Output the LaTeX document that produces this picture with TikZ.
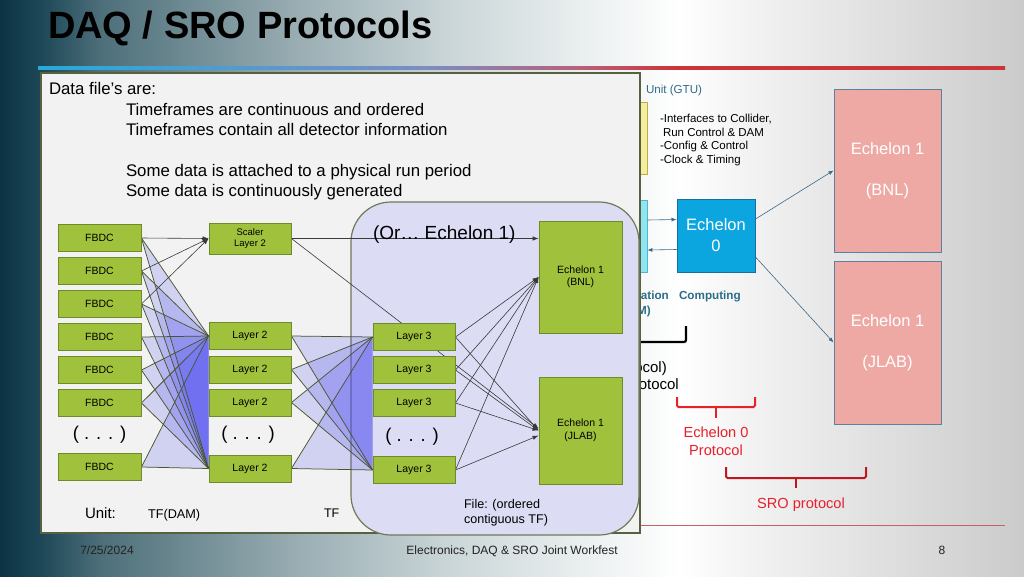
\documentclass[tikz,border=0pt]{standalone}
\usepackage{fontspec}
\setmainfont{Liberation Sans}
\usetikzlibrary{arrows.meta,calc}
\definecolor{bgA}{HTML}{0B3343}
\definecolor{bgA2}{HTML}{1D4757}
\definecolor{bgB}{HTML}{4D6F7A}
\definecolor{bgC}{HTML}{9AAEB3}
\definecolor{bgD}{HTML}{CBD6D8}
\definecolor{bgE}{HTML}{EEF2F2}
\definecolor{bgF}{HTML}{F4F4F4}
\definecolor{bgG}{HTML}{CBCBCB}
\definecolor{lnA}{HTML}{28A9D9}
\definecolor{lnB}{HTML}{7C8DC2}
\definecolor{lnC}{HTML}{B8607A}
\definecolor{lnD}{HTML}{CC3538}
\definecolor{botline}{HTML}{C4606C}
\definecolor{gfill}{HTML}{A0C13B}
\definecolor{gborder}{HTML}{6E8B2A}
\definecolor{panelfill}{HTML}{F2F2F2}
\definecolor{panelborder}{HTML}{55613F}
\definecolor{lavfill}{HTML}{DCDCF4}
\definecolor{lavborder}{HTML}{6E7A58}
\definecolor{fanblue}{HTML}{5050F0}
\definecolor{fanline}{HTML}{4A5630}
\definecolor{arrgray}{HTML}{3A3A3A}
\definecolor{tealline}{HTML}{3A6A8A}
\definecolor{tealtext}{HTML}{2B6D8A}
\definecolor{pinkfill}{HTML}{EEA9A5}
\definecolor{pinkborder}{HTML}{5D7FA0}
\definecolor{ezfill}{HTML}{0BA5E0}
\definecolor{ezborder}{HTML}{1C6E9A}
\definecolor{gtufill}{HTML}{F6EE9C}
\definecolor{gtuborder}{HTML}{B5B050}
\definecolor{damfill}{HTML}{8EE6F2}
\definecolor{damborder}{HTML}{55B5C5}
\definecolor{redA}{HTML}{E8202A}
\definecolor{redB}{HTML}{C0161C}
\definecolor{foot}{HTML}{222222}
\pgfdeclarehorizontalshading{slidebg}{100bp}{color(0bp)=(bgA); color(25bp)=(bgA); color(27bp)=(bgA2); color(29.9bp)=(bgB); color(39.6bp)=(bgC); color(47bp)=(bgD); color(54.3bp)=(bgE); color(58.2bp)=(white); color(61.1bp)=(bgF); color(75bp)=(bgG); color(100bp)=(bgG)}
\pgfdeclarehorizontalshading{topline}{100bp}{color(0bp)=(lnA); color(25bp)=(lnA); color(45bp)=(lnB); color(53bp)=(lnC); color(58bp)=(lnD); color(75bp)=(lnD); color(100bp)=(lnD)}
\pgfdeclarelayer{L0}
\pgfdeclarelayer{L1}
\pgfdeclarelayer{L2}
\pgfdeclarelayer{L3}
\pgfsetlayers{L0,L1,L2,L3,main}
\newcommand\fsz[2]{\fontsize{#1}{#2}\selectfont}
\begin{document}
\begin{tikzpicture}[x=1pt,y=-1pt,
  txt/.style={inner sep=0pt, outer sep=0pt, anchor=base west},
  gnode/.style={draw=gborder, fill=gfill, line width=0.9pt, inner sep=0pt, minimum width=83pt, minimum height=27pt, font=\fsz{10.5}{12.5}, align=center},
  fan/.style={fill=fanblue, fill opacity=0.2},
  fanln/.style={draw=fanline, line width=0.75pt},
  arr/.style={draw=arrgray, line width=0.6pt, -{Latex[length=6pt,width=4.5pt]}},
  earr/.style={draw=tealline, line width=0.6pt, -{Latex[length=5pt,width=4pt]}},
  pinkbox/.style={draw=pinkborder, fill=pinkfill, line width=1pt, minimum width=107pt, minimum height=163pt, inner sep=0pt, text=white, font=\fsz{16.5}{20.5}, align=center},
  dots/.style={inner sep=0pt, font=\fsz{18.5}{20}},
  redtxt/.style={inner sep=0pt, anchor=base, font=\fsz{14.6}{17}},
  foottxt/.style={inner sep=0pt, anchor=base, font=\fsz{12}{14}, text=foot}
]
\useasboundingbox (0,0) rectangle (1024,576);

\begin{pgfonlayer}{L0}
  \shade[shading=slidebg] (0,0) rectangle (1024,576);
  \shade[shading=topline] (38,66.7) rectangle (1005,69.5);
  \draw[botline, line width=1.2pt] (640,525.5) -- (1005,525.5);
  \node[txt, font=\fsz{38}{40}\bfseries] (title) at (48,38) {DAQ / SRO Protocols};

  \node[draw=gtuborder, fill=gtufill, line width=0.8pt, minimum width=47pt, minimum height=72pt, inner sep=0pt] (gtu) at (623.5,138) {};
  \node[draw=damborder, fill=damfill, line width=0.8pt, minimum width=47pt, minimum height=72pt, inner sep=0pt] (dam) at (623.5,236) {};
  \node[txt, font=\fsz{11.6}{14}, text=tealtext] (gtulbl) at (646,93) {Unit (GTU)};
  \node[txt, font=\fsz{11.5}{14}] (i1) at (660,122) {-Interfaces to Collider,};
  \node[txt, font=\fsz{11.5}{14}] (i2) at (663,136) {Run Control \& DAM};
  \node[txt, font=\fsz{11.5}{14}] (i3) at (660,149) {-Config \& Control};
  \node[txt, font=\fsz{11.5}{14}] (i4) at (660,163) {-Clock \& Timing};

  \node[draw=ezborder, fill=ezfill, line width=1pt, minimum width=78pt, minimum height=73pt, inner sep=0pt, text=white, font=\fsz{16.5}{21}, align=center] (e0) at (716,235.5) {Echelon\\0};
  \node[pinkbox] (p1) at (887.5,170.5) {Echelon 1\\[20.5pt](BNL)};
  \node[pinkbox] (p2) at (887.5,342.5) {Echelon 1\\[20.5pt](JLAB)};

  \draw[earr] ([yshift=16pt]dam.east) -- ([yshift=16pt]e0.west);
  \draw[earr] ([yshift=-14pt]e0.west) -- ([yshift=-14pt]dam.east);
  \draw[earr] ([yshift=16.5pt]e0.east) -- (p1.west);
  \draw[earr] ([yshift=-21.5pt]e0.east) -- (p2.west);

  \node[inner sep=0pt, anchor=base east, font=\fsz{11.7}{14}\bfseries, text=tealtext] (frag1) at (669,299) {ation};
  \node[txt, font=\fsz{11.7}{14}\bfseries, text=tealtext] (comp) at (679,299) {Computing};
  \node[inner sep=0pt, anchor=base east, font=\fsz{11.7}{14}\bfseries, text=tealtext] (frag2) at (651,314) {M)};
  \draw[line width=2.2pt, rounded corners=2pt] (620,342) -- (686,342) -- (686,326);
  \node[inner sep=0pt, anchor=base east, font=\fsz{15}{17}] (frag3) at (667,372) {ocol)};
  \node[inner sep=0pt, anchor=base east, font=\fsz{15}{17}] (frag4) at (679,389) {otocol};

  \draw[redA, line width=2pt, rounded corners=1.5pt] (677,397) -- (677,407) -- (755,407) -- (755,397);
  \draw[redA, line width=2pt] (716,407) -- (716,418);
  \node[redtxt, text=redA] (ep1) at (716,437) {Echelon 0};
  \node[redtxt, text=redA] (ep2) at (716,455) {Protocol};
  \draw[redB, line width=2pt, rounded corners=1.5pt] (726,467) -- (726,478) -- (866,478) -- (866,467);
  \draw[redB, line width=2pt] (796,478) -- (796,488);
  \node[redtxt, text=redA] (sro) at (801,508) {SRO protocol};

  \node[foottxt] (date) at (107,554) {7/25/2024};
  \node[foottxt] (conf) at (512,554) {Electronics, DAQ \& SRO Joint Workfest};
  \node[foottxt] (page) at (942,554) {8};
\end{pgfonlayer}

\begin{pgfonlayer}{L1}
  \filldraw[fill=panelfill, draw=panelborder, line width=1.2pt] (41,73) rectangle (640,533);
  \node[txt, font=\fsz{16.8}{20}] (d0) at (49,94) {Data file’s are:};
  \node[txt, font=\fsz{16.8}{20}] (d1) at (126,115) {Timeframes are continuous and ordered};
  \node[txt, font=\fsz{16.8}{20}] (d2) at (126,135) {Timeframes contain all detector information};
  \node[txt, font=\fsz{16.8}{20}] (d3) at (126,176) {Some data is attached to a physical run period};
  \node[txt, font=\fsz{16.8}{20}] (d4) at (126,196) {Some data is continuously generated};
\end{pgfonlayer}

% green nodes
\node[gnode] (f1) at (99.5,238) {FBDC};
\node[gnode] (f2) at (99.5,271) {FBDC};
\node[gnode] (f3) at (99.5,304) {FBDC};
\node[gnode] (f4) at (99.5,337) {FBDC};
\node[gnode] (f5) at (99.5,370) {FBDC};
\node[gnode] (f6) at (99.5,403) {FBDC};
\node[gnode] (f7) at (99.5,467) {FBDC};
\node[dots] (fd) at (99.5,435) {( . . . )};

\node[gnode, minimum width=82pt, minimum height=31pt, font=\fsz{9.5}{11.5}] (sc) at (250,238.5) {Scaler\\Layer 2};
\node[gnode, minimum width=82pt] (l2a) at (250,336) {Layer 2};
\node[gnode, minimum width=82pt] (l2b) at (250,369.5) {Layer 2};
\node[gnode, minimum width=82pt] (l2c) at (250,402.5) {Layer 2};
\node[gnode, minimum width=82pt] (l2d) at (250,468.5) {Layer 2};
\node[dots] (l2dots) at (248,435) {( . . . )};

\node[gnode, minimum width=82pt] (l3a) at (414,337) {Layer 3};
\node[gnode, minimum width=82pt] (l3b) at (414,370) {Layer 3};
\node[gnode, minimum width=82pt] (l3c) at (414,403) {Layer 3};
\node[gnode, minimum width=82pt] (l3d) at (414,470) {Layer 3};
\node[dots] (l3dots) at (412,437) {( . . . )};

\node[gnode, minimum width=83pt, minimum height=112pt] (e1b) at (580.5,277) {Echelon 1\\(BNL)};
\node[gnode, minimum width=83pt, minimum height=107pt] (e1j) at (580.5,430.5) {Echelon 1\\(JLAB)};

\node[txt, font=\fsz{19}{22}] (orech) at (373,239) {(Or… Echelon 1)};
\node[txt, font=\fsz{15}{17}] (unit) at (85,518) {Unit:};
\node[txt, font=\fsz{12.7}{15}] (tfdam) at (148,518) {TF(DAM)};
\node[txt, font=\fsz{12.5}{15}] (tf) at (324,517) {TF};
\node[txt, font=\fsz{12.6}{15}] (file1) at (464,508) {File: (ordered};
\node[txt, font=\fsz{12.6}{15}] (file2) at (464,523) {contiguous TF)};

\begin{pgfonlayer}{L2}
  \draw[fill=lavfill, draw=lavborder, line width=1.2pt, rounded corners=40pt] (351,202) rectangle (639,535);
  \foreach \f in {f1,f2,f3,f4,f5,f6,f7}{
    \fill[fan] (\f.east) -- (l2a.west) -- (l2d.west) -- cycle;
  }
  \foreach \l in {l2a,l2b,l2c,l2d}{
    \fill[fan] (\l.east) -- (l3a.west) -- (l3d.west) -- cycle;
  }
\end{pgfonlayer}

\begin{pgfonlayer}{L3}
  \foreach \f in {f1,f2,f3,f4,f5,f6,f7}{
    \draw[fanln] (\f.east) -- (l2a.west);
    \draw[fanln] (\f.east) -- (l2d.west);
  }
  \foreach \l in {l2a,l2b,l2c,l2d}{
    \draw[fanln] (\l.east) -- (l3a.west);
    \draw[fanln] (\l.east) -- (l3d.west);
  }
  \draw[arr] (f1.east) -- (sc.west);
  \draw[arr] (f2.east) -- (sc.west);
  \draw[arr] (f3.east) -- (sc.west);
  \draw[arr] (sc.east) -- (sc.east -| e1b.west);
  \draw[arr] (sc.east) -- ($(e1j.west)+(0,-2)$);
  \foreach \t in {l3a,l3b,l3c}{
    \draw[arr] (\t.east) -- (e1b.west);
    \draw[arr] (\t.east) -- (e1j.west);
  }
  \draw[arr] (l3d.east) -- (e1b.west);
  \draw[arr] (l3d.east) -- ($(e1j.west)+(0,5)$);
\end{pgfonlayer}
\end{tikzpicture}
\end{document}
